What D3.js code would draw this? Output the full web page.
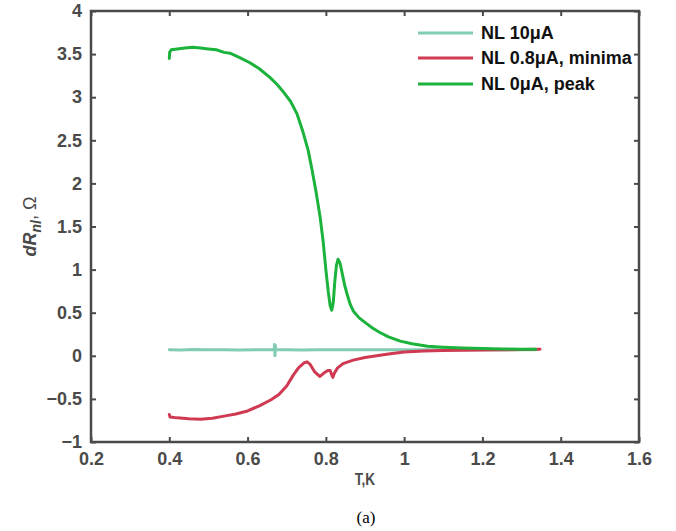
<!DOCTYPE html>
<html><head><meta charset="utf-8">
<script src="https://cdn.jsdelivr.net/npm/d3@7"></script>
<style>body{margin:0;background:#fff}svg{display:block}</style>
</head><body>
<svg id="chart" width="676" height="531"></svg>
<script>
const xTicks = [0.2, 0.4, 0.6, 0.8, 1.0, 1.2, 1.4, 1.6];
const xTickLabels = ["0.2", "0.4", "0.6", "0.8", "1", "1.2", "1.4", "1.6"];
const yTicks = [-1, -0.5, 0, 0.5, 1, 1.5, 2, 2.5, 3, 3.5, 4];
const yTickLabels = ["\u22121", "\u22120.5", "0", "0.5", "1", "1.5", "2", "2.5", "3", "3.5", "4"];

const seriesNames = ["NL 10\u03bcA", "NL 0.8\u03bcA, minima", "NL 0\u03bcA, peak"];
const seriesColors = ["#82cbb5", "#cf3a52", "#1cb33c"];

const tealT = [0.400, 0.43, 0.46, 0.50, 0.54, 0.58, 0.62, 0.66, 0.668, 0.669, 0.670, 0.671, 0.672, 0.674, 0.70, 0.74, 0.78, 0.82, 0.86, 0.90, 0.95, 1.00, 1.05, 1.10, 1.15, 1.20, 1.25, 1.30, 1.335];
const tealV = [0.07, 0.068, 0.072, 0.069, 0.071, 0.068, 0.07, 0.069, 0.07, 0.13, 0.0, 0.12, 0.07, 0.07, 0.071, 0.068, 0.07, 0.069, 0.071, 0.07, 0.069, 0.07, 0.071, 0.07, 0.069, 0.07, 0.07, 0.071, 0.07];

const redT = [0.400, 0.402, 0.42, 0.45, 0.48, 0.51, 0.54, 0.57, 0.60, 0.63, 0.66, 0.68, 0.70, 0.716, 0.73, 0.745, 0.752, 0.76, 0.772, 0.785, 0.795, 0.805, 0.811, 0.815, 0.818, 0.822, 0.83, 0.844, 0.87, 0.90, 0.93, 0.96, 1.00, 1.05, 1.10, 1.20, 1.30, 1.347];
const redV = [-0.68, -0.71, -0.72, -0.73, -0.735, -0.725, -0.70, -0.675, -0.64, -0.58, -0.51, -0.45, -0.35, -0.23, -0.14, -0.08, -0.07, -0.10, -0.19, -0.24, -0.20, -0.17, -0.17, -0.22, -0.25, -0.20, -0.14, -0.09, -0.05, -0.02, 0.00, 0.02, 0.045, 0.055, 0.062, 0.068, 0.072, 0.075];

const greenT = [0.400, 0.401, 0.405, 0.42, 0.44, 0.46, 0.48, 0.50, 0.52, 0.54, 0.555, 0.58, 0.606, 0.63, 0.657, 0.675, 0.69, 0.71, 0.726, 0.74, 0.755, 0.765, 0.775, 0.785, 0.793, 0.80, 0.806, 0.811, 0.815, 0.819, 0.823, 0.827, 0.831, 0.836, 0.842, 0.848, 0.854, 0.862, 0.87, 0.885, 0.905, 0.92, 0.938, 0.96, 0.99, 1.02, 1.06, 1.10, 1.15, 1.20, 1.25, 1.30, 1.336];
const greenV = [3.45, 3.52, 3.55, 3.56, 3.57, 3.58, 3.57, 3.56, 3.55, 3.52, 3.51, 3.46, 3.40, 3.33, 3.23, 3.15, 3.07, 2.95, 2.81, 2.62, 2.38, 2.15, 1.90, 1.62, 1.33, 1.00, 0.75, 0.58, 0.53, 0.62, 0.87, 1.05, 1.12, 1.08, 0.95, 0.82, 0.72, 0.60, 0.52, 0.44, 0.37, 0.32, 0.27, 0.22, 0.17, 0.14, 0.11, 0.10, 0.09, 0.085, 0.08, 0.075, 0.075];

const svg = d3.select("#chart");
const L = 91, R = 639, T = 11, B = 442;
const x = d3.scaleLinear().domain([0.2, 1.6]).range([L, R]);
const y = d3.scaleLinear().domain([-1, 4]).range([B, T]);
const axisColor = "#4a4a4a";
const font = "'Liberation Sans', Arial, Helvetica, sans-serif";

// lines
const series = [
  {t: tealT, v: tealV},
  {t: redT, v: redV},
  {t: greenT, v: greenV}
];
const line = d3.line().x(d => x(d[0])).y(d => y(d[1]));
series.forEach((s, i) => {
  const pts = s.t.map((t, j) => [t, s.v[j]]);
  svg.append("path").attr("d", line(pts)).attr("fill", "none")
    .attr("stroke", seriesColors[i]).attr("stroke-width", 3)
    .attr("stroke-linejoin", "round").attr("stroke-linecap", "round");
});

// axes
function styleAxis(g) {
  g.select(".domain").remove();
  g.selectAll(".tick line").attr("stroke", axisColor).attr("stroke-width", 2);
  g.selectAll(".tick text").attr("fill", axisColor).attr("font-family", font)
    .attr("font-weight", "bold").attr("font-size", 18);
}
const xi = {}; xTicks.forEach((t, i) => xi[t] = xTickLabels[i]);
const yi = {}; yTicks.forEach((t, i) => yi[t] = yTickLabels[i]);

svg.append("g").attr("transform", `translate(0,${B})`)
  .call(d3.axisBottom(x).tickValues(xTicks).tickSize(-5).tickPadding(10).tickFormat(d => xi[d]))
  .call(styleAxis);
svg.append("g").attr("transform", `translate(0,${T})`)
  .call(d3.axisTop(x).tickValues(xTicks).tickSize(-5).tickFormat(""))
  .call(styleAxis);
svg.append("g").attr("transform", `translate(${L},0)`)
  .call(d3.axisLeft(y).tickValues(yTicks).tickSize(-5).tickPadding(9).tickFormat(d => yi[d]))
  .call(styleAxis);
svg.append("g").attr("transform", `translate(${R},0)`)
  .call(d3.axisRight(y).tickValues(yTicks).tickSize(-5).tickFormat(""))
  .call(styleAxis);

// frame
svg.append("rect").attr("x", L).attr("y", T).attr("width", R - L).attr("height", B - T)
  .attr("fill", "none").attr("stroke", axisColor).attr("stroke-width", 2.5);

// x title
svg.append("text").attr("x", (L + R) / 2).attr("y", 485).attr("text-anchor", "middle")
  .attr("font-family", font).attr("font-weight", "bold").attr("font-size", 16)
  .attr("fill", axisColor).attr("transform", `translate(${(L + R) / 2},0) scale(0.85,1) translate(${-(L + R) / 2},0)`)
  .text("T,K");

// y title
const yt = svg.append("text").attr("transform", `translate(36,${(T + B) / 2}) rotate(-90)`)
  .attr("text-anchor", "middle").attr("font-family", font).attr("font-size", 18)
  .attr("fill", axisColor);
yt.append("tspan").attr("font-weight", "bold").attr("font-style", "italic").text("dR");
yt.append("tspan").attr("font-weight", "bold").attr("font-style", "italic").attr("font-size", 14).attr("dy", 5).text("nl");
yt.append("tspan").attr("dy", -5).text(", \u03a9");

// caption
svg.append("text").attr("x", 366).attr("y", 523).attr("text-anchor", "middle")
  .attr("font-family", "'Liberation Serif', 'Times New Roman', serif").attr("font-size", 17)
  .attr("fill", "#000").text("(a)");

// legend
const legY = [33, 58, 84];
seriesNames.forEach((n, i) => {
  svg.append("line").attr("x1", 418).attr("x2", 473).attr("y1", legY[i]).attr("y2", legY[i])
    .attr("stroke", seriesColors[i]).attr("stroke-width", 3);
  svg.append("text").attr("x", 481).attr("y", legY[i] + 6).attr("font-family", font)
    .attr("font-weight", "bold").attr("font-size", 18).attr("fill", "#111").text(n);
});
</script>
</body></html>
